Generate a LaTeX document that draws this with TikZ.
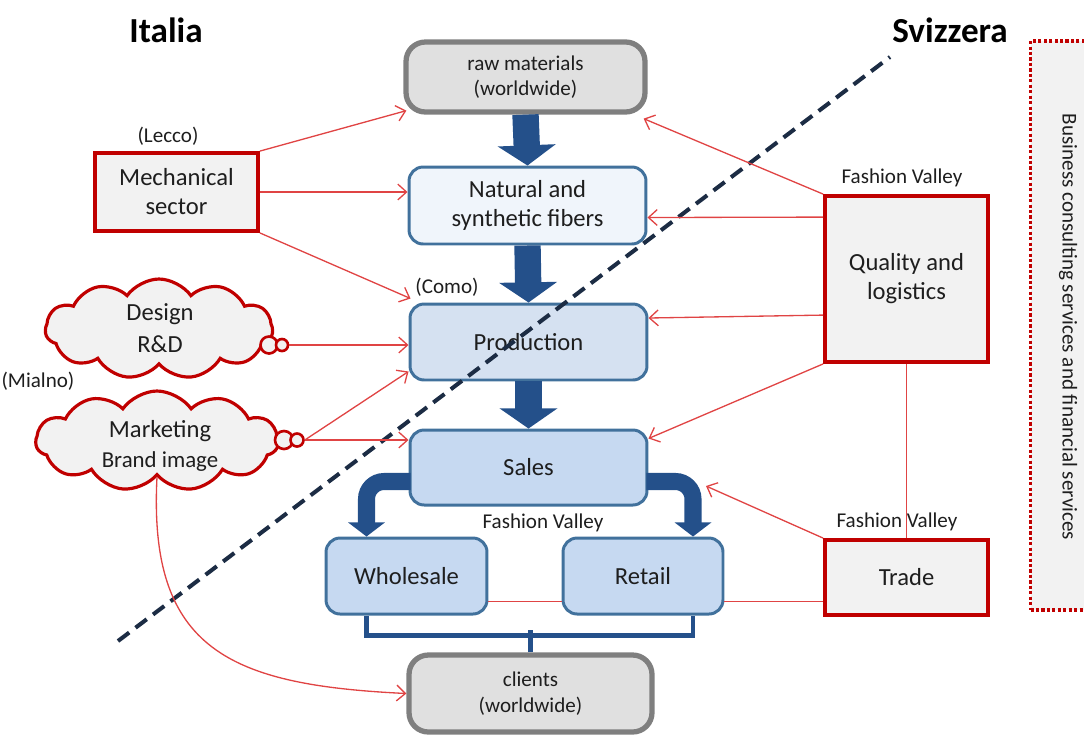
\documentclass[tikz,border=0pt]{standalone}
\usepackage{fontspec}
\setmainfont{Carlito}
\usetikzlibrary{arrows.meta,shapes.symbols,calc}
\definecolor{txt}{HTML}{1E1E1E}
\definecolor{redline}{HTML}{E04444}
\definecolor{redbox}{HTML}{C00000}
\definecolor{boxfill}{HTML}{F2F2F2}
\definecolor{bluebd}{HTML}{41719C}
\definecolor{natfill}{HTML}{F0F5FB}
\definecolor{prodfill}{HTML}{D5E1F1}
\definecolor{salesfill}{HTML}{C6D9F1}
\definecolor{grayfill}{HTML}{E0E0E0}
\definecolor{graybd}{HTML}{7F7F7F}
\definecolor{fatblue}{HTML}{24508A}
\definecolor{dashnavy}{HTML}{1C2C44}
\tikzset{
  bluebox/.style={draw=bluebd, line width=1.7pt, rounded corners=8pt, text=txt, align=center, inner sep=0pt},
  graybox/.style={draw=graybd, fill=grayfill, line width=3pt, rounded corners=11pt, text=txt, align=center, inner sep=0pt, font=\fontsize{12}{14.5}\selectfont},
  redbox/.style={draw=redbox, fill=boxfill, line width=2.2pt, text=txt, align=center, inner sep=0pt},
  cloudbox/.style={cloud, cloud puffs=11, cloud puff arc=110, draw=redbox, fill=boxfill, line width=1.8pt, text=txt, align=center, inner sep=0pt},
  bubble/.style={circle, draw=redbox, fill=boxfill, line width=1.5pt, inner sep=0pt},
  link/.style={draw=redline, line width=0.75pt},
  linkarrow/.style={link, -{Straight Barb[length=5pt,width=9pt]}},
  fat/.style={draw=fatblue, line width=15pt, -{Triangle[length=11.5pt,width=32.5pt]}},
  fatbend/.style={draw=fatblue, line width=9.7pt, rounded corners=10pt, -{Triangle[length=8pt,width=20.5pt]}},
  bracket/.style={draw=fatblue, line width=2.6pt},
  lbl/.style={text=txt, font=\fontsize{12}{14}\selectfont, inner sep=0pt},
  title/.style={text=black, font=\fontsize{20}{24}\selectfont\bfseries, inner sep=0pt}
}
\begin{document}
\begin{tikzpicture}[x=0.02cm, y=-0.02cm, font=\fontsize{14}{16.5}\selectfont]
\useasboundingbox (0,0) rectangle (1084,738);
% side box
\node[draw=redbox, fill=boxfill, line width=2pt, dash pattern=on 1.8pt off 1.3pt,
      minimum width=1.5cm, minimum height=11.38cm, inner sep=0pt] (biz) at (1068,325.5) {};
\node[lbl, rotate=-90] (biztext) at (1068,327) {Business consulting services and financial services};
% titles
\node[title] (italia) at (166,30) {Italia};
\node[title] (svizzera) at (950,30) {Svizzera};
% main chain
\node[graybox, minimum width=4.78cm, minimum height=1.4cm] (raw) at (525.5,77) {raw materials\\(worldwide)};
\node[bluebox, fill=natfill, minimum width=4.74cm, minimum height=1.54cm] (nat) at (527.5,205.5) {Natural and\\synthetic fibers};
\node[bluebox, fill=prodfill, minimum width=4.74cm, minimum height=1.52cm] (prod) at (528.5,342) {Production};
\node[bluebox, fill=salesfill, minimum width=4.74cm, minimum height=1.5cm] (sales) at (528.5,467.5) {Sales};
\node[bluebox, fill=salesfill, minimum width=3.22cm, minimum height=1.52cm] (whole) at (406.5,576) {Wholesale};
\node[bluebox, fill=salesfill, minimum width=3.2cm, minimum height=1.52cm] (retail) at (643,576) {Retail};
\node[graybox, minimum width=4.86cm, minimum height=1.54cm] (clients) at (530.5,693.5) {clients\\(worldwide)};
% red boxes
\node[redbox, minimum width=3.26cm, minimum height=1.56cm] (mech) at (176.5,192) {Mechanical\\sector};
\node[redbox, minimum width=3.26cm, minimum height=3.32cm] (qual) at (906.5,279) {Quality and\\logistics};
\node[redbox, minimum width=3.26cm, minimum height=1.5cm] (trade) at (906.5,577.5) {Trade};
% clouds
\node[cloudbox, minimum width=4.55cm, minimum height=2cm] (design) at (159,329) {};
\node[text=txt, align=center] (designtext) at (160,328) {Design\\[2pt]R\&D};
\node[bubble, minimum size=0.34cm] (db1) at (269,345) {};
\node[bubble, minimum size=0.24cm] (db2) at (282,345) {};
\node[cloudbox, minimum width=4.85cm, minimum height=2cm] (mkt) at (157,441) {};
\node[text=txt, align=center] (mkttext) at (160,446) {Marketing\\[1pt]{\fontsize{13}{15}\selectfont Brand image}};
\node[bubble, minimum size=0.36cm] (mb1) at (284,440) {};
\node[bubble, minimum size=0.26cm] (mb2) at (297,440) {};
% labels
\node[lbl] (lecco) at (168,136) {(Lecco)};
\node[lbl] (como) at (447,287) {(Como)};
\node[lbl] (mialno) at (38,381) {(Mialno)};
\node[lbl] (fvq) at (902,178) {Fashion Valley};
\node[lbl] (fvs) at (543,523) {Fashion Valley};
\node[lbl] (fvt) at (897,522) {Fashion Valley};
% fat arrows
\draw[fat] (raw.south) -- (nat.north);
\draw[fat] (nat.south) -- (prod.north);
\draw[fat] (prod.south) -- (sales.north);
\draw[fatbend] ($(sales.west)+(2,14)$) -| ($(whole.north)+(-40,0)$);
\draw[fatbend] ($(sales.east)+(-2,14)$) -| ($(retail.north)+(50,0)$);
\coordinate (rbend) at (706,486);
% bracket
\draw[bracket] ($(whole.south)+(-40,0)$) -- ++(0,20) -| ($(retail.south)+(50,0)$);
\draw[bracket] (clients.north) -- ++(0,-22);
% dashed border line
\coordinate (dashA) at (118,641);
\coordinate (dashB) at (890,57);
\draw[dashnavy, line width=2.3pt, dash pattern=on 8pt off 4.5pt] (dashA) -- (dashB);
% red links
\draw[linkarrow] (mech.north east) -- ($(raw.south west)+(3,-4)$);
\draw[linkarrow] (mech.east) -- (mech.east -| nat.west);
\draw[linkarrow] (mech.south east) -- ($(prod.north west)+(2,-4)$);
\draw[linkarrow] (db2.east) -- (db2.east -| prod.west);
\draw[linkarrow] (mb2.east) -- ($(prod.south west)+(0,-10)$);
\draw[linkarrow] (mb2.east) -- (mb2.east -| sales.west);
\draw[linkarrow] (mkt.south) .. controls (148,650) and (230,685) .. (clients.west);
\draw[linkarrow] (qual.north west) -- ($(raw.south east)+(-4,4)$);
\draw[linkarrow] ($(qual.north west)+(0,23)$) -- ($(nat.north east)+(0,52)$);
\draw[linkarrow] ($(qual.north west)+(0,121)$) -- ($(prod.east)+(0,-24)$);
\draw[linkarrow] (qual.south west) -- ($(sales.north east)+(0,10)$);
\draw[linkarrow] (trade.north west) -- (rbend);
\draw[link] (qual.south) -- (trade.north);
\coordinate (lowline) at ($(retail.south east)+(0,-14)$);
\draw[link] ($(whole.south east)+(0,-14)$) -- ($(retail.south west)+(0,-14)$);
\draw[link] (lowline) -- (lowline -| trade.west);
\end{tikzpicture}
\end{document}
